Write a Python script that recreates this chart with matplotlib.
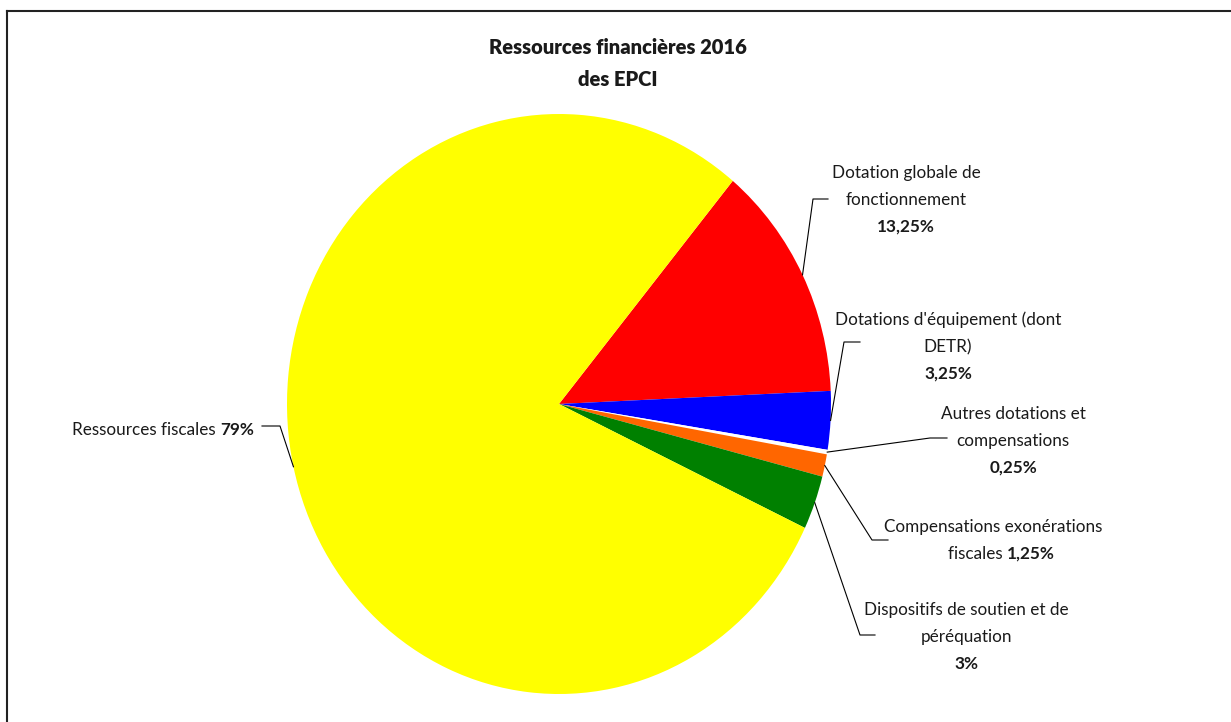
import numpy as np
import matplotlib.pyplot as plt
from matplotlib.lines import Line2D

plt.rcParams['font.family'] = ['Lato', 'DejaVu Sans']

# donnees (ordre Excel, sens horaire depuis la DGF)
labels = ["Dotation globale de\nfonctionnement", "Dotations d'équipement (dont\nDETR)",
          "Autres dotations et\ncompensations", "Compensations exonérations\nfiscales",
          "Dispositifs de soutien et de\npéréquation", "Ressources fiscales"]
values = [13.25, 3.25, 0.25, 1.25, 3.0, 79.0]
pct_labels = ["13,25%", "3,25%", "0,25%", "1,25%", "3%", "79%"]
colors = ["#ff0000", "#0000ff", "#ffffff", "#ff6600", "#008000", "#ffff00"]

W, H = 1231, 722
fig = plt.figure(figsize=(W / 100, H / 100), dpi=100)

# pie is a little stretched vertically in the original (272 x 290 px)
cx, cy, rx, ry = 559, 404, 272, 290
ax = fig.add_axes([(cx - rx) / W, (H - cy - ry) / H, 2 * rx / W, 2 * ry / H])
wedges, _ = ax.pie(values, colors=colors, startangle=50.3, counterclock=False,
                   radius=1, wedgeprops=dict(linewidth=0))
ax.set_xlim(-1, 1)
ax.set_ylim(-1, 1)
ax.set_aspect('auto')
ax.axis('off')


def px(x, y):
    # pixel of the picture -> data coords of ax
    return (x - cx) / rx, (cy - y) / ry


fs = 12.3
lc = '#000000'
tc = '#1a1a1a'

# label text block centre x, first line y (pixels), leader elbow, leader end
label_pos = [(906, 173), (948, 320), (1013, 414), None, (966, 610), None]
elbows = [((813, 199), (828, 199)), ((844, 342), (860, 342)), ((930, 438), (947, 438)),
          ((872, 540), (888, 540)), ((860, 635), (875, 635)), ((280, 426), (262, 426))]
line_step = 27

for i, w in enumerate(wedges):
    mid = np.deg2rad((w.theta1 + w.theta2) / 2)
    x0, y0 = np.cos(mid), np.sin(mid)
    (ex, ey), (fx, fy) = elbows[i]
    e = px(ex, ey)
    f = px(fx, fy)
    ax.add_line(Line2D([x0, e[0], f[0]], [y0, e[1], f[1]], color=lc, lw=0.8,
                       clip_on=False))
    if label_pos[i] is not None:
        tx, ty = label_pos[i]
        lines = labels[i].split("\n")
        for k, ln in enumerate(lines):
            p = px(tx, ty + k * line_step)
            ax.text(p[0], p[1], ln, ha='center', va='center', fontsize=fs,
                    color=tc, clip_on=False)
        p = px(tx, ty + len(lines) * line_step)
        ax.text(p[0], p[1], pct_labels[i], ha='center', va='center', fontsize=fs,
                fontweight='bold', color=tc, clip_on=False)

# labels with bold value on the same line
lines = labels[3].split("\n")
p = px(993, 527)
ax.text(p[0], p[1], lines[0], ha='center', va='center', fontsize=fs, color=tc)
p = px(948, 554)
t = ax.text(p[0], p[1], lines[1] + " ", ha='left', va='center', fontsize=fs, color=tc)
ax.annotate(pct_labels[3], xy=(1, 0.5), xycoords=t, ha='left', va='center',
            fontsize=fs, fontweight='bold', color=tc)

p = px(72, 430)
t = ax.text(p[0], p[1], labels[5] + " ", ha='left', va='center', fontsize=fs, color=tc)
ax.annotate(pct_labels[5], xy=(1, 0.5), xycoords=t, ha='left', va='center',
            fontsize=fs, fontweight='bold', color=tc)

# title
fig.text(618 / W, 1 - 47 / H, "Ressources financières 2016", ha='center', va='center',
         fontsize=14.5, fontweight='heavy', color=tc)
fig.text(618 / W, 1 - 80 / H, "des EPCI", ha='center', va='center',
         fontsize=14.5, fontweight='heavy', color=tc)

# chart frame (top and left visible)
fig.add_artist(Line2D([7 / W, 1], [1 - 11 / H, 1 - 11 / H], transform=fig.transFigure,
                      color='#222222', lw=1.5))
fig.add_artist(Line2D([7 / W, 7 / W], [0, 1 - 11 / H], transform=fig.transFigure,
                      color='#222222', lw=1.5))

fig.savefig("out.png", dpi=100)
